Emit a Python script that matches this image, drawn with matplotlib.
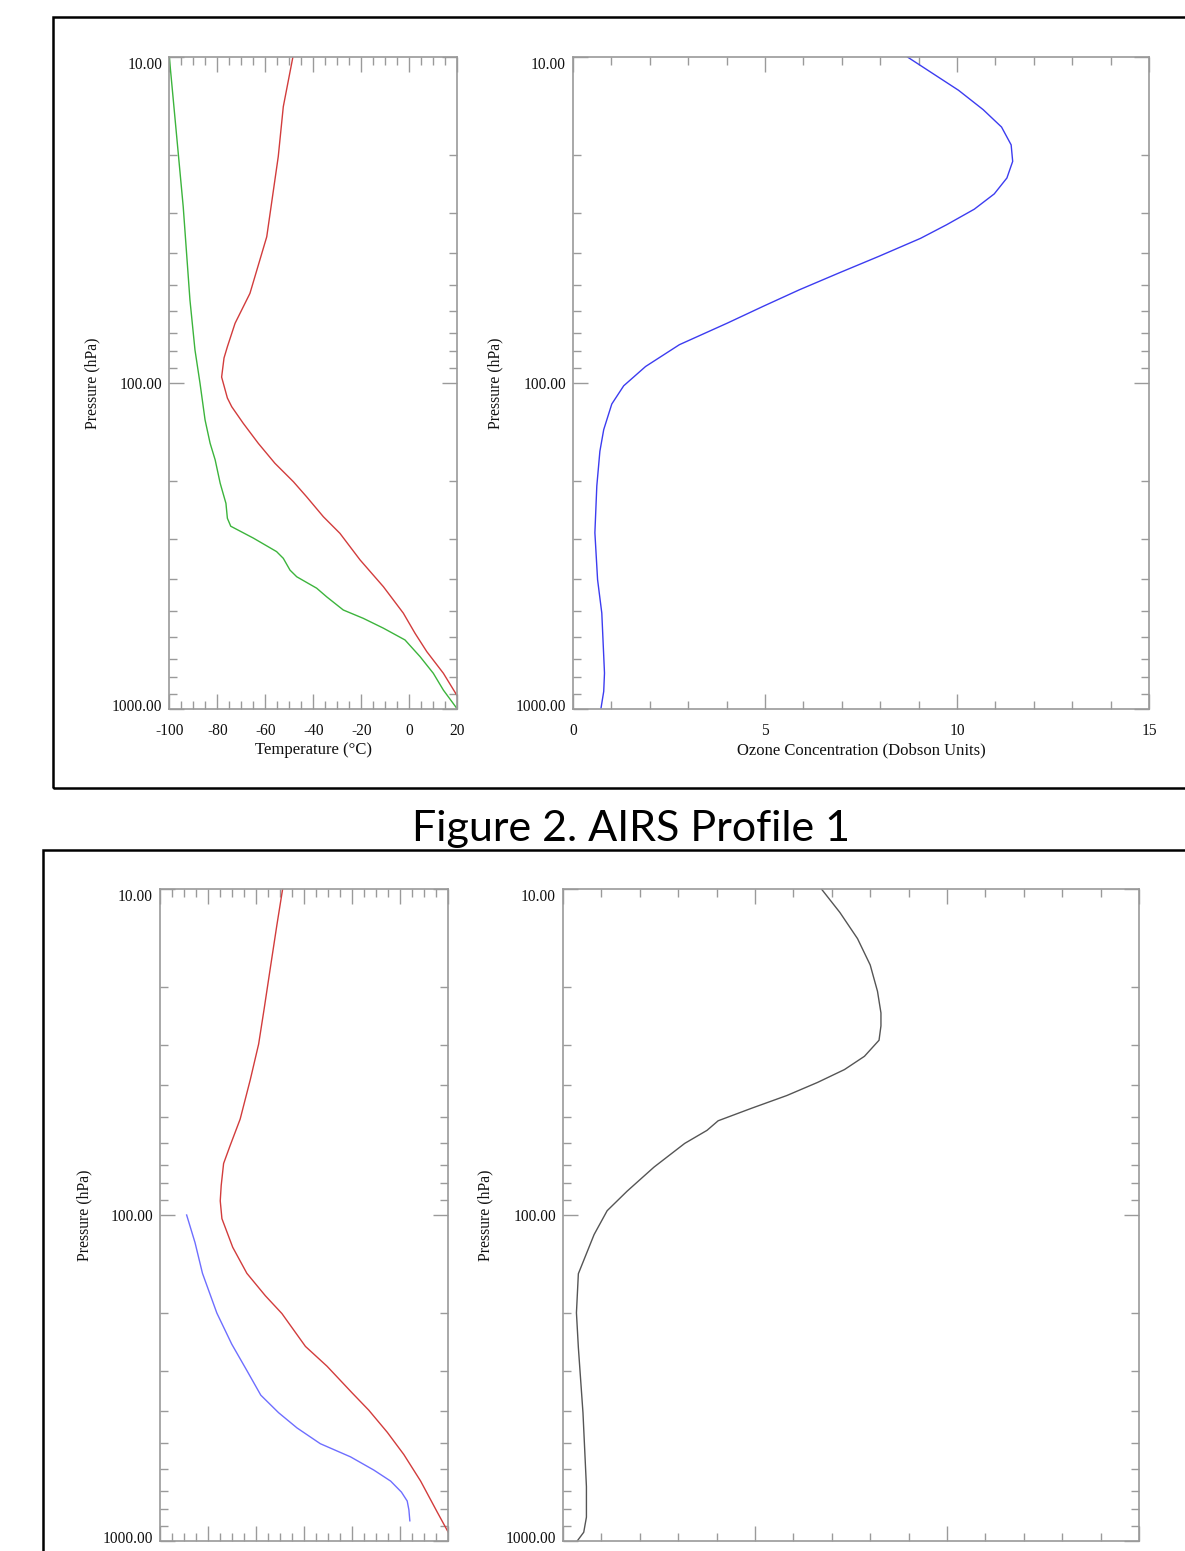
import matplotlib
matplotlib.use("Agg")
import matplotlib.pyplot as plt
from matplotlib.ticker import FixedLocator, MultipleLocator, NullFormatter
from matplotlib.patches import Rectangle
from matplotlib.transforms import ScaledTranslation

plt.rcParams["axes.unicode_minus"] = False

# ---------------- data ----------------
# Profile 1 (top): temperature (red) and dew point (green), deg C vs pressure (hPa)
p1_temp_p = [10, 14.2, 20.2, 35.6, 53.1, 65.6, 77.4, 83.8, 95.9, 111.2, 118.2, 132.9, 153.2,
             176.3, 200.8, 223.3, 257.2, 289.2, 349, 421.5, 508, 586, 667, 777, 906, 1000]
p1_temp_t = [-48.5, -52.5, -54.6, -59.4, -66.4, -72.6, -75.8, -77.2, -78.2, -75.8, -74.0, -69.2, -62.9,
             -56.0, -48.3, -42.8, -35.8, -28.9, -20.5, -10.8, -2.5, 2.4, 7.3, 14.2, 19.75, 23.5]

p1_dew_p = [10, 28.8, 55.6, 79.2, 100.2, 129.8, 153, 172, 203, 234, 260, 275, 299, 329, 345,
            375, 393, 426, 453, 497, 527, 565, 614, 691, 777, 875, 1000]
p1_dew_t = [-100, -94.2, -91.4, -89.3, -87.2, -85.1, -83.0, -80.9, -78.8, -76.4, -75.8, -74.4, -65.0,
            -55.3, -52.5, -49.7, -46.9, -38.6, -34.4, -27.5, -19.2, -10.8, -1.8, 4.5, 10.0, 14.2, 20.0]

# Profile 1 ozone (Dobson Units)
p1_oz_p = [10, 12.65, 14.5, 16.4, 18.6, 20.9, 23.5, 26.3, 29.3, 32.7, 36.0, 40.9, 46.0, 51.8, 58.2,
           65.5, 76.3, 89.0, 102, 116, 139, 162, 207, 288, 401, 508, 776, 883, 993]
p1_oz_v = [8.71, 10.04, 10.68, 11.16, 11.41, 11.45, 11.30, 10.97, 10.45, 9.73, 9.05, 7.96, 6.92, 5.89,
           4.95, 4.02, 2.77, 1.89, 1.32, 1.01, 0.80, 0.70, 0.62, 0.57, 0.64, 0.75, 0.82, 0.80, 0.73]

# Profile 2 (bottom): temperature (red) and dew point (blue)
p2_temp_p = [10, 12.9, 17.6, 23.3, 29.9, 38.5, 50.8, 61.3, 69.5, 81.2, 90.5, 102.6, 125.6, 151,
             176.9, 200.6, 253, 291, 351, 397, 464, 543, 655, 815, 937, 1000]
p2_temp_t = [-48.9, -51.3, -54.1, -56.6, -58.9, -62.4, -66.6, -70.8, -73.5, -74.5, -74.9, -74.2, -69.7,
             -63.8, -56.1, -49.2, -39.4, -30.4, -20.0, -13.0, -5.3, 1.6, 8.6, 15.5, 20.0, 22.5]

p2_dew_p = [100, 121.6, 151, 200, 249, 300, 357, 404, 450, 503, 552, 606, 655, 708, 754, 802, 867]
p2_dew_t = [-88.9, -85.4, -82.3, -76.3, -70.1, -63.8, -58.0, -50.6, -42.9, -33.2, -20.6, -10.9,
            -3.9, 0.6, 3.0, 3.7, 4.1]

# Profile 2 ozone
p2_oz_p = [10, 11.8, 14.2, 17.1, 20.6, 24.0, 26.3, 29.1, 32.6, 35.8, 39.2, 43.0, 47.1, 51.4, 55.0,
           60.3, 71.3, 84.5, 97.0, 114.8, 151.4, 199.5, 255, 404, 681, 845, 940, 1000]
p2_oz_v = [6.73, 7.21, 7.67, 8.00, 8.19, 8.28, 8.28, 8.23, 7.85, 7.33, 6.63, 5.83, 4.90, 4.04, 3.75,
           3.17, 2.37, 1.67, 1.15, 0.81, 0.40, 0.35, 0.40, 0.52, 0.61, 0.61, 0.54, 0.37]

y_ticks = [10, 100, 1000]
y_tick_labels = ["10.00", "100.00", "1000.00"]
y_minor = [20, 30, 40, 50, 60, 70, 80, 90, 200, 300, 400, 500, 600, 700, 800, 900]
temp_ticks = [-100, -80, -60, -40, -20, 0, 20]
ozone_ticks = [0, 5, 10, 15]

title = "Figure 2. AIRS Profile 1"
ylab = "Pressure (hPa)"
xlab_temp = "Temperature (\u00b0C)"
xlab_oz = "Ozone Concentration (Dobson Units)"

# ---------------- figure ----------------
W, H = 1185, 1551
fig = plt.figure(figsize=(W / 100, H / 100), dpi=100)

SERIF = ["Liberation Serif", "DejaVu Serif"]
TXT = "#111111"
SPINE = "#9a9a9a"


def ax_at(x0, y0, x1, y1):
    return fig.add_axes([x0 / W, 1 - y1 / H, (x1 - x0) / W, (y1 - y0) / H])


def style(ax, xlim, xticks, xminor, show_xlabels, ylab_x, xlabel=None):
    ax.set_yscale("log")
    ax.set_ylim(1000, 10)
    ax.set_xlim(*xlim)
    ax.yaxis.set_major_locator(FixedLocator(y_ticks))
    ax.set_yticklabels(y_tick_labels)
    ax.yaxis.set_minor_locator(FixedLocator(y_minor))
    ax.yaxis.set_minor_formatter(NullFormatter())
    ax.xaxis.set_major_locator(FixedLocator(xticks))
    ax.xaxis.set_minor_locator(MultipleLocator(xminor))
    ax.set_xticklabels([str(t) for t in xticks])
    ax.tick_params(which="both", direction="in", top=True, right=True, color=SPINE, width=1.0)
    ax.tick_params(which="major", axis="x", length=11, pad=10)
    ax.tick_params(which="minor", axis="x", length=5.5)
    ax.tick_params(which="major", axis="y", length=11, pad=5)
    ax.tick_params(which="minor", axis="y", length=6)
    ax.tick_params(axis="both", labelsize=11.2, labelcolor=TXT)
    if not show_xlabels:
        ax.tick_params(axis="x", labelbottom=False)
    for lbl in ax.get_xticklabels() + ax.get_yticklabels():
        lbl.set_family(SERIF)
    # nudge the end labels inward as in the original rendering
    ticks = ax.yaxis.get_major_ticks()
    for i, dy in ((0, -0.06), (2, 0.04)):
        lab = ticks[i].label1
        lab.set_transform(lab.get_transform() + ScaledTranslation(0, dy, fig.dpi_scale_trans))
    for s in ax.spines.values():
        s.set_color(SPINE)
        s.set_linewidth(1.2)
    ax.set_ylabel(ylab, family=SERIF, fontsize=11.3, color=TXT, va="center")
    ax.yaxis.set_label_coords(ylab_x, 0.5)
    if xlabel:
        ax.set_xlabel(xlabel, family=SERIF, fontsize=12, color=TXT, va="center")
        ax.xaxis.set_label_coords(0.5, -0.063)


ax1 = ax_at(169.3, 57, 457.3, 709)
ax2 = ax_at(573, 57, 1149, 709)
ax3 = ax_at(160, 889, 448, 1541)
ax4 = ax_at(563, 889, 1139, 1541)

ax1.plot(p1_temp_t, p1_temp_p, color="#d23c3c", lw=1.0)
ax1.plot(p1_dew_t, p1_dew_p, color="#3cb43c", lw=1.0)
style(ax1, (-100, 20), temp_ticks, 5, True, -0.268, xlab_temp)

ax2.plot(p1_oz_v, p1_oz_p, color="#3c3cf0", lw=1.0)
style(ax2, (0, 15), ozone_ticks, 1, True, -0.135, xlab_oz)

ax3.plot(p2_temp_t, p2_temp_p, color="#d23c3c", lw=1.0)
ax3.plot(p2_dew_t, p2_dew_p, color="#6e6eff", lw=1.0)
style(ax3, (-100, 20), temp_ticks, 5, False, -0.264)

ax4.plot(p2_oz_v, p2_oz_p, color="#555555", lw=1.0)
style(ax4, (0, 15), ozone_ticks, 1, False, -0.134)

# document frames
fig.add_artist(Rectangle((53 / W, 1 - 788 / H), (1200 - 53) / W, (788 - 17) / H,
                         transform=fig.transFigure, fill=False, ec="black", lw=1.8))
fig.add_artist(Rectangle((43 / W, 1 - 1570 / H), (1200 - 43) / W, (1570 - 850) / H,
                         transform=fig.transFigure, fill=False, ec="black", lw=1.8))

fig.text(631 / W, 1 - 829 / H, title, ha="center", va="center", fontsize=31,
         family=["Lato", "DejaVu Sans"], color="black")

fig.savefig("out.png", dpi=100, facecolor="white")
